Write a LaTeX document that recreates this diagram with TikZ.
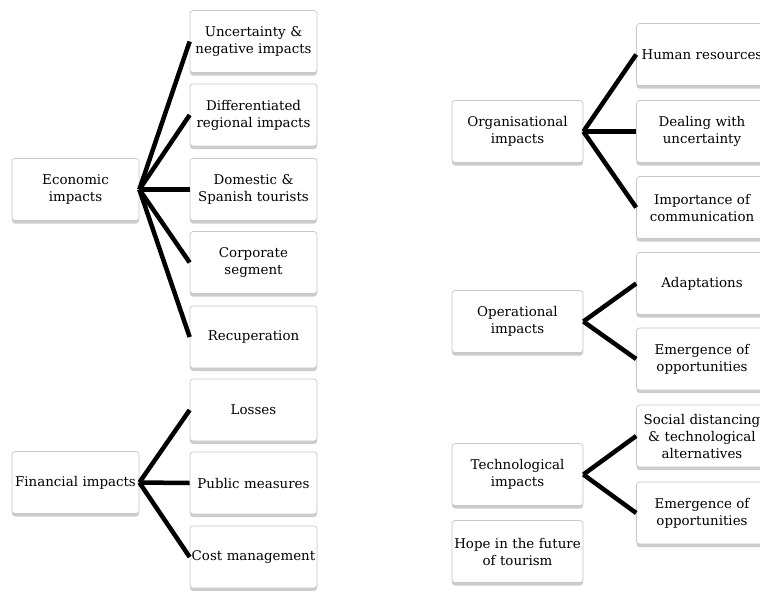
\documentclass[tikz,border=0pt]{standalone}
\usepackage{fontspec}
\setmainfont{DejaVu Serif}
\usetikzlibrary{shadows}

\begin{document}
\begin{tikzpicture}[x=1pt, y=-1pt,
    theme/.style={draw=black!22, fill=white, rounded corners=3pt, line width=0.7pt,
      drop shadow={shadow xshift=0pt, shadow yshift=-3pt, fill=black!40},
      align=center, inner sep=1pt, font=\fontsize{13.4}{17}\selectfont,
      minimum height=62pt},
    lhead/.style={theme, minimum width=127pt, text width=125pt},
    lsub/.style={theme, minimum width=127pt, text width=125pt},
    rhead/.style={theme, minimum width=131pt, text width=129pt},
    rsub/.style={theme, minimum width=131pt, text width=129pt},
    branch/.style={line width=4.5pt, black}]
        \useasboundingbox (0,0) rectangle (760,590);
        \clip (0,0) rectangle (760,590);

        % economic
        \node [lhead] (eco) at (75.5,189.5) {Economic\\impacts};
        \node [lsub] (eco1) at (253.5,41.5) {Uncertainty \&\\negative impacts};
        \node [lsub] (eco2) at (253.5,115) {Differentiated\\regional impacts};
        \node [lsub] (eco3) at (253.5,189.5) {Domestic \&\\Spanish tourists};
        \node [lsub] (eco4) at (253.5,262.5) {Corporate\\segment};
        \node [lsub] (eco5) at (253.5,337) {Recuperation};

        % financial
        \node [lhead] (fin) at (75.5,482.5) {Financial impacts};
        \node [lsub] (fin1) at (253.5,410) {Losses};
        \node [lsub] (fin2) at (253.5,483) {Public measures};
        \node [lsub] (fin3) at (253.5,557) {Cost management};

        % organisational
        \node [rhead] (org) at (517.5,131.5) {Organisational\\impacts};
        \node [rsub] (org1) at (702,54.5) {Human resources};
        \node [rsub] (org2) at (702,131.5) {Dealing with\\uncertainty};
        \node [rsub] (org3) at (702,207.5) {Importance of\\communication};

        % operational
        \node [rhead] (ope) at (517.5,321.5) {Operational\\impacts};
        \node [rsub] (ope1) at (702,283.5) {Adaptations};
        \node [rsub] (ope2) at (702,359) {Emergence of\\opportunities};

        % technological
        \node [rhead] (tec) at (517.5,474.5) {Technological\\impacts};
        \node [rsub] (tec1) at (702,436) {Social distancing\\\& technological\\alternatives};
        \node [rsub] (tec2) at (702,513) {Emergence of\\opportunities};

        \node [rhead] (hope) at (517.5,551.5) {Hope in the future\\of tourism};

        \foreach \i in {1,...,5}
          \draw [branch] (eco.east) -- (eco\i.west);
        \foreach \i in {1,2,3}
          \draw [branch] (fin.east) -- (fin\i.west);
        \foreach \i in {1,2,3}
          \draw [branch] (org.east) -- (org\i.west);
        \foreach \i in {1,2}
          \draw [branch] (ope.east) -- (ope\i.west);
        \foreach \i in {1,2}
          \draw [branch] (tec.east) -- (tec\i.west);
      \end{tikzpicture}
\end{document}
